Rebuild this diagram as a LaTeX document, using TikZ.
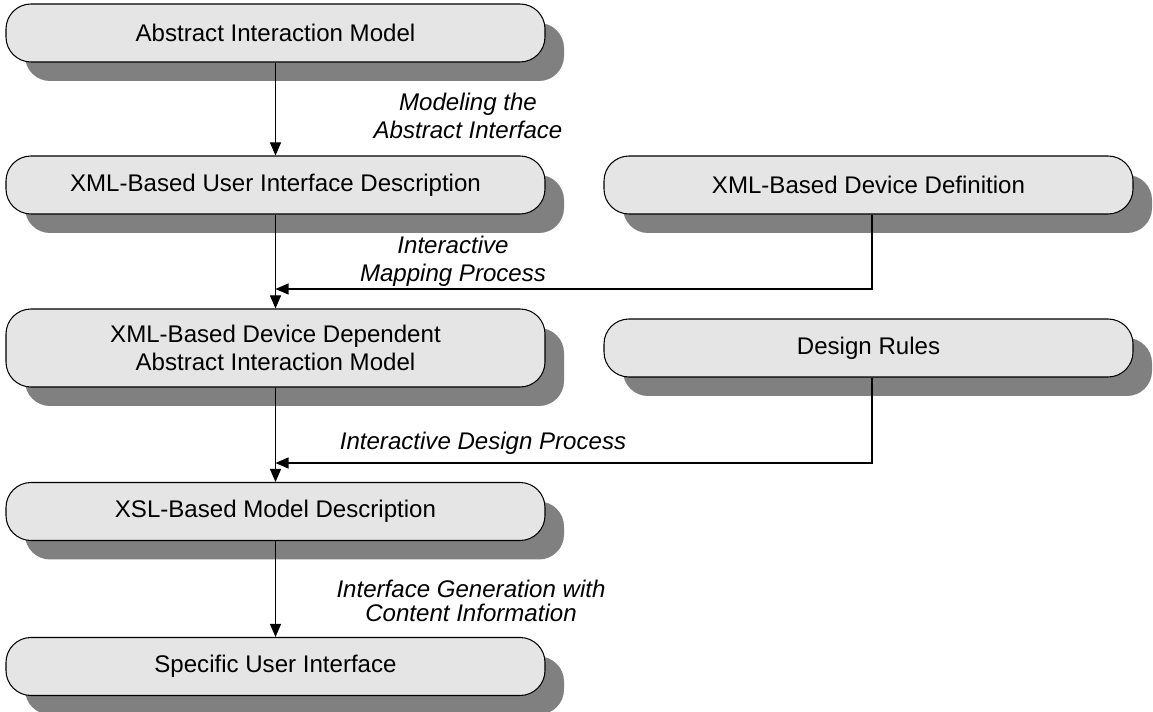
\documentclass[tikz,border=0pt]{standalone}
\usepackage{fontspec}
\setmainfont{Liberation Sans}
\usetikzlibrary{shadows,arrows.meta}

\begin{document}
\begin{tikzpicture}[
    stage/.style={draw, line width=0.6pt, fill=black!10, rounded corners=0.5cm,
        minimum width=10.78cm, minimum height=1.16cm, align=center,
        font=\fontsize{13.7}{15.5}\selectfont,
        drop shadow={shadow xshift=0.38cm, shadow yshift=-0.38cm, opacity=1, fill=black!50}},
    proc/.style={align=center, font=\fontsize{13.7}{16}\selectfont\itshape},
    flow/.style={-{Triangle[length=0.26cm,width=0.22cm]}, line width=0.6pt}]
    \useasboundingbox (0,0) rectangle (23.06,-14.24);

    % main chain on the left
    \node[stage] (aim) at (5.51,-0.66) {Abstract Interaction Model};
    \node[stage] (xmlui) at (5.51,-3.70) {XML-Based User Interface Description};
    \node[stage, minimum height=1.56cm] (devmodel) at (5.51,-6.96) {XML-Based Device Dependent\\Abstract Interaction Model};
    \node[stage] (xslmodel) at (5.51,-10.23) {XSL-Based Model Description};
    \node[stage] (specui) at (5.51,-13.33) {Specific User Interface};

    % inputs on the right
    \node[stage, minimum width=10.58cm] (devdef) at (17.37,-3.70) {XML-Based Device Definition};
    \node[stage, minimum width=10.58cm] (rules) at (17.37,-6.96) {Design Rules};

    % where the side inputs join
    \coordinate (mapjoin) at (5.51,-5.78);
    \coordinate (designjoin) at (5.51,-9.26);

    \draw[flow] (aim) -- (xmlui);
    \draw[flow] (xmlui) -- (devmodel);
    \draw[flow] (devmodel) -- (xslmodel);
    \draw[flow] (xslmodel) -- (specui);
    \draw[flow] ([xshift=0.07cm]devdef.south) |- (mapjoin);
    \draw[flow] ([xshift=0.07cm]rules.south) |- (designjoin);

    % process labels
    \node[proc] (modlbl) at (9.36,-2.32) {Modeling the\\Abstract Interface};
    \node[proc] (maplbl) at (9.06,-5.23) {Interactive\\Mapping Process};
    \node[proc] (designlbl) at (9.66,-8.86) {Interactive Design Process};
    \node[proc, font=\fontsize{13.7}{14}\selectfont\itshape] (genlbl) at (9.42,-12.02) {Interface Generation with\\Content Information};
\end{tikzpicture}
\end{document}
